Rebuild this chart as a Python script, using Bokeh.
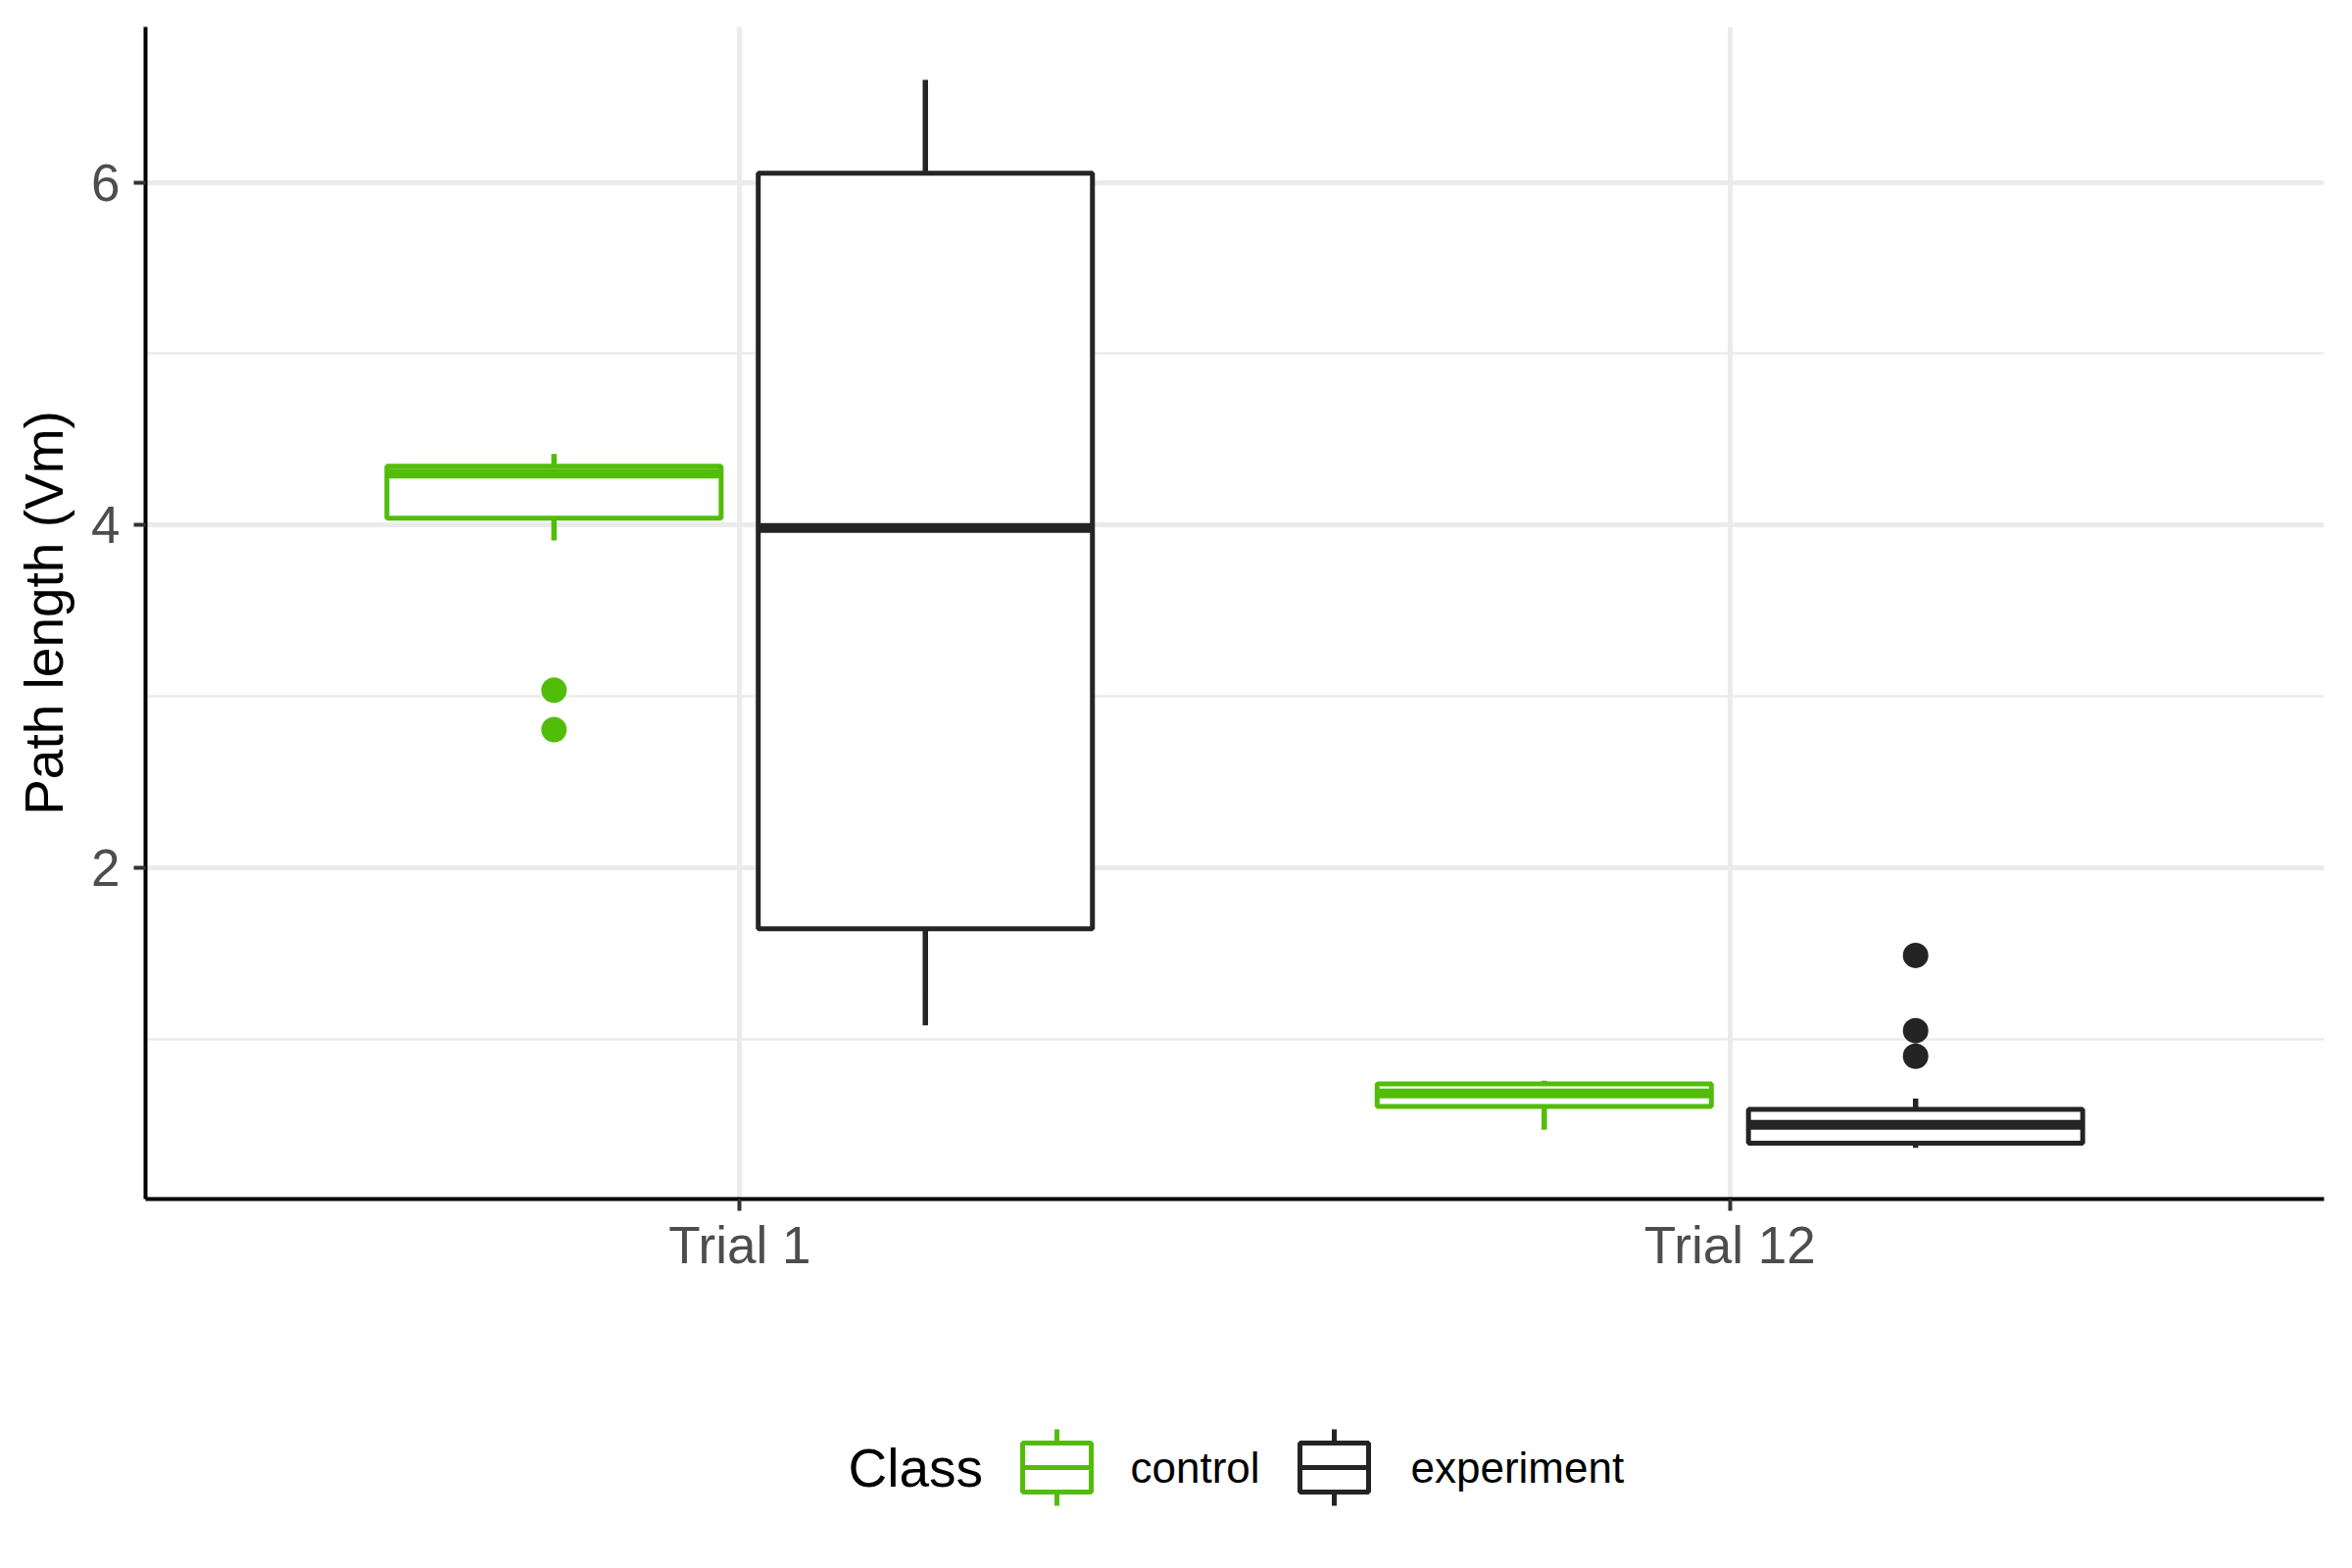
from bokeh.plotting import figure
from bokeh.models import FactorRange, Range1d, FixedTicker, ColumnDataSource
from bokeh.transform import dodge
from bokeh.layouts import column
from bokeh.embed import file_html
from bokeh.resources import INLINE
from bokeh.core.properties import value

# ---------------- data ----------------
trials = ["Trial 1", "Trial 12"]
classes = ["control", "experiment"]

control_min = [3.91, 0.47]
control_q1 = [4.04, 0.607]
control_med = [4.30, 0.683]
control_q3 = [4.343, 0.738]
control_max = [4.415, 0.756]
control_out_trial = ["Trial 1", "Trial 1"]
control_out_val = [3.036, 2.806]

experiment_min = [1.08, 0.365]
experiment_q1 = [1.643, 0.392]
experiment_med = [3.982, 0.499]
experiment_q3 = [6.053, 0.590]
experiment_max = [6.598, 0.652]
experiment_out_trial = ["Trial 12", "Trial 12", "Trial 12"]
experiment_out_val = [1.488, 1.049, 0.90]

y_ticks = [2, 4, 6]
y_minor = [1, 3, 5]

GREEN = "#52BD09"
DARK = "#242424"
FONT = "Liberation Sans"

# ---------------- main plot ----------------
p = figure(width=2400, height=1330, output_backend="svg", toolbar_location=None,
           x_range=FactorRange(*trials, range_padding=0.1),
           y_range=Range1d(0.066, 6.907),
           min_border_left=148, min_border_right=29, min_border_top=27, min_border_bottom=107)
p.outline_line_color = None
p.background_fill_color = "white"
p.border_fill_color = "white"

p.xgrid.grid_line_color = "#EBEBEB"
p.xgrid.grid_line_width = 5
p.ygrid.grid_line_color = "#EBEBEB"
p.ygrid.grid_line_width = 5
p.ygrid.minor_grid_line_color = "#EBEBEB"
p.ygrid.minor_grid_line_width = 2.5
p.yaxis.ticker = FixedTicker(ticks=y_ticks, minor_ticks=y_minor)

for ax in (p.xaxis[0], p.yaxis[0]):
    ax.axis_line_color = "black"
    ax.axis_line_width = 4
    ax.major_tick_line_color = "#333333"
    ax.major_tick_line_width = 4
    ax.major_tick_out = 12
    ax.major_tick_in = 0
    ax.minor_tick_line_color = None
    ax.major_label_text_font = FONT
    ax.major_label_text_font_size = "53px"
    ax.major_label_text_color = "#4D4D4D"
    ax.axis_label_text_font = FONT
    ax.axis_label_text_font_style = "normal"
    ax.axis_label_text_font_size = "55px"
    ax.axis_label_text_color = "black"
p.xaxis.major_label_standoff = 5
p.yaxis.major_label_standoff = 14
p.yaxis.axis_label = "Path length (Vm)"
p.yaxis.axis_label_standoff = 14

DODGE = 0.1875
BOXW = 0.3375

series = [
    ("control", -DODGE, GREEN, control_min, control_q1, control_med, control_q3, control_max,
     control_out_trial, control_out_val),
    ("experiment", DODGE, DARK, experiment_min, experiment_q1, experiment_med, experiment_q3,
     experiment_max, experiment_out_trial, experiment_out_val),
]

for name, off, col, lo, q1, med, q3, hi, ot, ov in series:
    src = ColumnDataSource(dict(trial=trials, lo=lo, q1=q1, med=med, q3=q3, hi=hi))
    xc = dodge("trial", off, range=p.x_range)
    p.segment(x0=xc, y0="q3", x1=xc, y1="hi", source=src, line_color=col, line_width=5.5)
    p.segment(x0=xc, y0="lo", x1=xc, y1="q1", source=src, line_color=col, line_width=5.5)
    p.vbar(x=xc, width=BOXW, bottom="q1", top="q3", source=src,
           fill_color="white", line_color=col, line_width=5)
    p.segment(x0=dodge("trial", off - BOXW / 2, range=p.x_range), y0="med",
              x1=dodge("trial", off + BOXW / 2, range=p.x_range), y1="med",
              source=src, line_color=col, line_width=10)
    osrc = ColumnDataSource(dict(trial=ot, y=ov))
    p.scatter(x=dodge("trial", off, range=p.x_range), y="y", source=osrc,
              size=26, fill_color=col, line_color=None)

# ---------------- legend (drawn below, in a pixel-like canvas aligned with the frame) ----------------
lg = figure(width=2400, height=270, output_backend="svg", toolbar_location=None,
            x_range=Range1d(148, 2371), y_range=Range1d(270, 0),
            min_border_left=148, min_border_right=29, min_border_top=0, min_border_bottom=0)
lg.axis.visible = False
lg.grid.visible = False
lg.outline_line_color = None
lg.background_fill_color = "white"
lg.border_fill_color = "white"

cy = 167
key_cx = [1078, 1361]
key_cols = [GREEN, DARK]
lg.segment(x0=key_cx, y0=[cy - 39] * 2, x1=key_cx, y1=[cy + 39] * 2,
           line_color=key_cols, line_width=5)
lg.quad(left=[c - 35 for c in key_cx], right=[c + 35 for c in key_cx],
        top=[cy - 25] * 2, bottom=[cy + 25] * 2,
        fill_color="white", line_color=key_cols, line_width=5)
lg.segment(x0=[c - 35 for c in key_cx], y0=[cy] * 2, x1=[c + 35 for c in key_cx], y1=[cy] * 2,
           line_color=key_cols, line_width=5)
lg.text(x=[865], y=[cy], text=["Class"], text_font=value(FONT), text_font_size="55px",
        text_color="black", text_align="left", text_baseline="middle")
lg.text(x=[1153, 1439], y=[cy, cy], text=classes, text_font=value(FONT),
        text_font_size="44px", text_color="black", text_align="left", text_baseline="middle")

layout = column(p, lg, spacing=0)
open("out.html", "w").write(file_html(layout, INLINE))
